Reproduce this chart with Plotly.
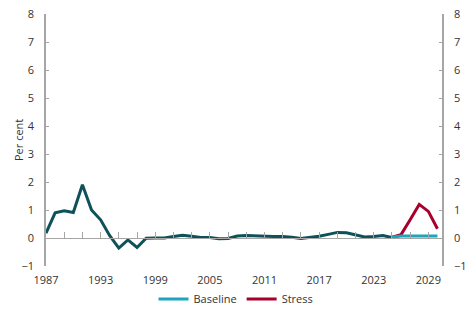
import plotly.graph_objects as go

hist_years = list(range(1987, 2026))
hist_values = [0.17, 0.90, 0.97, 0.91, 1.90, 1.00, 0.65, 0.08, -0.36, -0.07,
               -0.34, -0.01, 0.00, 0.00, 0.05, 0.10, 0.06, 0.02, 0.02, -0.03,
               -0.02, 0.07, 0.09, 0.07, 0.07, 0.05, 0.05, 0.03, -0.02, 0.02,
               0.06, 0.13, 0.20, 0.19, 0.11, 0.04, 0.05, 0.09, 0.02]
proj_years = list(range(2025, 2031))
baseline_values = [0.03, 0.07, 0.07, 0.07, 0.07, 0.07]
stress_values = [0.03, 0.12, 0.65, 1.20, 0.95, 0.33]
x_tick_labels = [1987, 1993, 1999, 2005, 2011, 2017, 2023, 2029]

HIST_COLOR = "#0e5158"
BASE_COLOR = "#1aa6be"
STRESS_COLOR = "#a8002c"
AXIS_COLOR = "#a6a6a6"
FONT = dict(family="Open Sans", size=11, color="#333333")

fig = go.Figure()
fig.add_trace(go.Scatter(x=hist_years, y=hist_values, mode="lines",
                         line=dict(color=HIST_COLOR, width=3), showlegend=False))
fig.add_trace(go.Scatter(x=proj_years, y=stress_values, mode="lines", name="Stress",
                         line=dict(color=STRESS_COLOR, width=3), legendrank=2))
fig.add_trace(go.Scatter(x=proj_years, y=baseline_values, mode="lines", name="Baseline",
                         line=dict(color=BASE_COLOR, width=3), legendrank=1))

xr = [1987, 2030.5]
yr = [-1, 8]

fig.update_layout(
    width=472, height=315,
    margin=dict(l=46, r=30, t=14, b=49, autoexpand=False),
    paper_bgcolor="white", plot_bgcolor="white",
    font=FONT,
    showlegend=True,
    legend=dict(orientation="h", x=0.5, xanchor="center", xref="container",
                y=(315 - 299) / 315, yanchor="middle", yref="container",
                font=FONT, itemwidth=30, tracegroupgap=0),
    xaxis=dict(range=xr, tickvals=x_tick_labels, ticktext=[str(v) for v in x_tick_labels],
               showline=False, ticks="", showgrid=False, zeroline=False,
               ticklabelstandoff=6, automargin=False),
    xaxis2=dict(range=xr, overlaying="x", anchor="free", position=1/9, side="bottom",
                tick0=1987, dtick=2, ticks="inside", ticklen=6, tickcolor=AXIS_COLOR,
                showline=True, linecolor=AXIS_COLOR, linewidth=1,
                showticklabels=False, showgrid=False, zeroline=False, automargin=False),
    yaxis=dict(range=yr, dtick=1, ticks="inside", ticklen=3, tickcolor=AXIS_COLOR,
               showline=True, linecolor=AXIS_COLOR, linewidth=1.5, showgrid=False,
               zeroline=False, ticklabelstandoff=8, automargin=False),
    yaxis2=dict(range=yr, dtick=1, overlaying="y", side="right", anchor="x",
                ticks="inside", ticklen=3, tickcolor=AXIS_COLOR,
                showline=True, linecolor=AXIS_COLOR, linewidth=1.5, showgrid=False,
                zeroline=False, ticklabelstandoff=8, automargin=False),
    annotations=[dict(text="Per cent", xref="paper", yref="paper",
                      x=(18 - 46) / 396, y=0.5, xanchor="center", yanchor="middle",
                      textangle=-90, showarrow=False, font=FONT)],
)
fig.add_trace(go.Scatter(x=[None], y=[None], xaxis="x2", yaxis="y2", showlegend=False,
                         hoverinfo="skip"))

fig.write_html("out.html")
